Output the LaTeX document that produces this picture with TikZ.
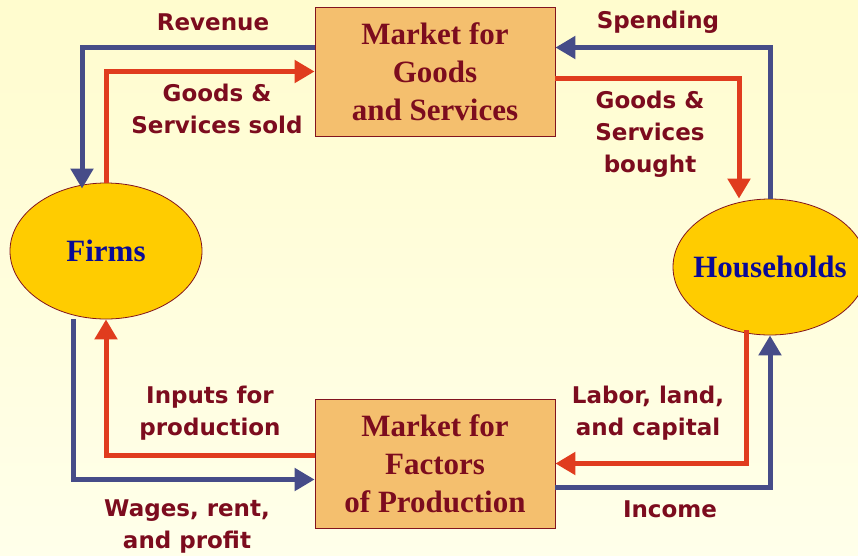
\documentclass[tikz,border=0pt]{standalone}
\usepackage{fontspec}
\newfontfamily\fontetichetta{DejaVu Sans}
\newfontfamily\fonttitolo{Liberation Serif}
\usepackage{tikz}
\usetikzlibrary{shapes.geometric, arrows.meta}
\usepackage{xcolor}
\definecolor{rossoscuro}{RGB}{124,12,30}
\definecolor{bluscuro}{RGB}{10,10,150}
\definecolor{arancio}{RGB}{244,191,110}
\definecolor{giallo}{RGB}{255,204,0}
\definecolor{bordo}{RGB}{130,20,30}
\definecolor{flussoB}{RGB}{70,76,136}
\definecolor{flussoR}{RGB}{224,60,30}
\definecolor{sfondoalto}{RGB}{255,252,206}
\definecolor{sfondobasso}{RGB}{255,255,234}

\begin{document}
\begin{tikzpicture}[x = 1pt, y = -1pt,
    mercato/.style = {rectangle, draw = bordo, line width = 0.8pt, fill = arancio, minimum width = 240pt, minimum height = 129pt, inner sep = 0pt, align = center, text = rossoscuro, font = \fonttitolo\bfseries\fontsize{31}{38}\selectfont},
    agente/.style = {ellipse, draw = bordo, line width = 0.8pt, fill = giallo, inner ysep = 0pt, inner xsep = -14pt, text = bluscuro, font = \fonttitolo\bfseries\fontsize{31}{38}\selectfont},
    etichetta/.style = {align = center, inner sep = 0pt, text = rossoscuro, font = \fontetichetta\bfseries\fontsize{23}{32}\selectfont},
    flussoblu/.style = {draw = flussoB, line width = 5pt, -{Triangle[width = 22pt, length = 20pt]}},
    flussorosso/.style = {draw = flussoR, line width = 5pt, -{Triangle[width = 22pt, length = 20pt]}}]
    % Sfondo
    \shade[top color = sfondoalto, bottom color = sfondobasso] (0,0) rectangle (858,555);
    \useasboundingbox (0,0) rectangle (858,555);
    % Mercati
    \node[mercato] (beni) at (435,71.5) {Market for\\Goods\\and Services};
    \node[mercato] (fattori) at (435,463.5) {Market for\\Factors\\of Production};
    % Imprese e famiglie
    \node[agente, minimum width = 192pt, minimum height = 136pt] (imprese) at (106,251) {Firms};
    \node[agente, minimum width = 194pt, minimum height = 136pt] (famiglie) at (770,267) {Households};
    % Flussi in alto
    \draw[flussoblu] ([yshift = 24pt]beni.west) -| ([xshift = -24pt, yshift = -6pt]imprese.north);
    \draw[flussorosso] (imprese.north) |- (beni.west);
    \draw[flussoblu] (famiglie.north) |- ([yshift = 24pt]beni.east);
    \draw[flussorosso] ([yshift = -7pt]beni.east) -| ([xshift = -31pt]famiglie.north);
    % Flussi in basso
    \draw[flussorosso] ([xshift = -24pt, yshift = 5pt]famiglie.south) |- (fattori.east);
    \draw[flussoblu] ([yshift = -24pt]fattori.east) -| (famiglie.south);
    \draw[flussorosso] ([yshift = 8pt]fattori.west) -| (imprese.south);
    \draw[flussoblu] ([xshift = -33pt]imprese.south) |- ([yshift = -16pt]fattori.west);
    % Etichette
    \node[etichetta] (ricavi) at (213,22) {Revenue};
    \node[etichetta] (venduti) at (217,109) {Goods \&\\Services sold};
    \node[etichetta] (spesa) at (658,22) {Spending};
    \node[etichetta] (comprati) at (650,134) {Goods \&\\Services\\bought};
    \node[etichetta] (input) at (210,413) {Inputs for\\production};
    \node[etichetta] (lavoro) at (648,413) {Labor, land,\\and capital};
    \node[etichetta] (salari) at (187,526) {Wages, rent,\\and profit};
    \node[etichetta] (reddito) at (670,509) {Income};
\end{tikzpicture}
\end{document}
